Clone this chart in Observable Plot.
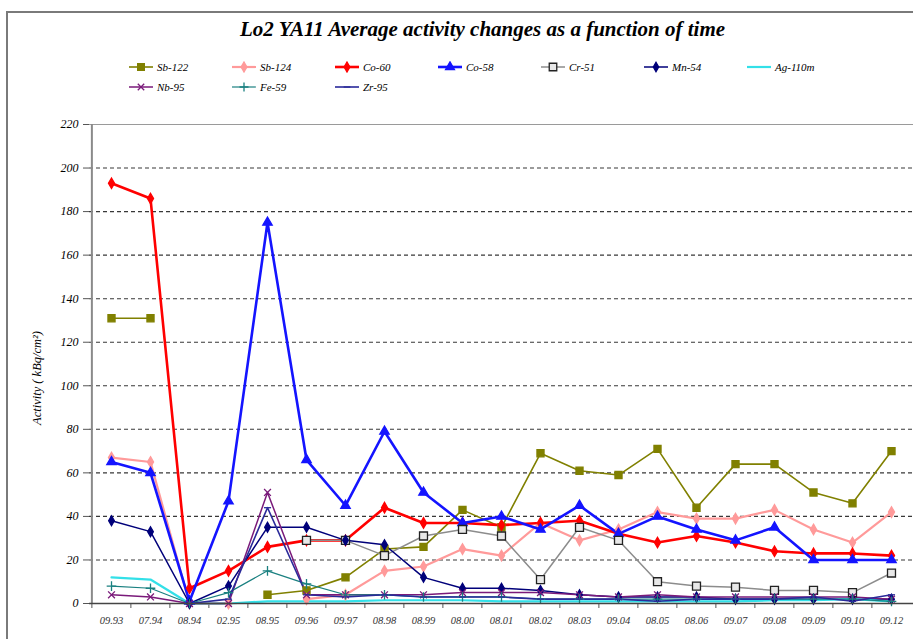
<!DOCTYPE html>
<html>
<head>
<meta charset="utf-8">
<script src="https://cdn.jsdelivr.net/npm/d3@7"></script>
<script src="https://cdn.jsdelivr.net/npm/@observablehq/plot@0.6"></script>
<style>
  html, body { margin: 0; padding: 0; background: #fff; }
  #page { position: relative; width: 913px; height: 639px; overflow: hidden; background: #fff; }
  #frame { position: absolute; left: 6px; top: 11px; width: 940px; height: 660px; border-left: 2px solid #7a7a7a; border-top: 2px solid #7a7a7a; }
  #title { position: absolute; left: 26px; width: 913px; top: 17px; text-align: center; font-family: "Liberation Serif", serif; font-weight: bold; font-style: italic; font-size: 21px; color: #000; }
  #legend { position: absolute; left: 128px; top: 60px; width: 720px; font-family: "Liberation Serif", serif; font-style: italic; font-size: 11px; color: #000; }
  .item { position: absolute; display: flex; align-items: center; height: 14px; }
  .item svg { margin-right: 3px; }
  #chart { position: absolute; left: 0; top: 110px; }
</style>
</head>
<body>
<div id="page">
  <div id="frame"></div>
  <div id="title"></div>
  <div id="legend"></div>
  <div id="chart"></div>
</div>
<script>
const titleText = "Lo2 YA11 Average activity changes as a function of time";
const yLabel = "Activity ( kBq/cm²)";
const categories = ["09.93","07.94","08.94","02.95","08.95","09.96","09.97","08.98","08.99","08.00","08.01","08.02","08.03","09.04","08.05","08.06","09.07","09.08","09.09","09.10","09.12"];
const yTicks = [0,20,40,60,80,100,120,140,160,180,200,220];
const seriesNames = ["Sb-122","Sb-124","Co-60","Co-58","Cr-51","Mn-54","Ag-110m","Nb-95","Fe-59","Zr-95"];

const sb122  = [131,131,null,null,4,6,12,25,26,43,35,69,61,59,71,44,64,64,51,46,70];
const sb124  = [67,65,0,0,null,2,4,15,17,25,22,37,29,34,42,39,39,43,34,28,42];
const co60   = [193,186,7,15,26,29,29,44,37,37,36,37,38,32,28,31,28,24,23,23,22];
const co58   = [65,60,1,47,175,66,45,79,51,37,40,34,45,32,40,34,29,35,20,20,20];
const cr51   = [null,null,null,null,null,29,29,22,31,34,31,11,35,29,10,8,7.5,6,6,5,14];
const mn54   = [38,33,0,8,35,35,29,27,12,7,7,6,4,3,3,3,2,2,2,2,2];
const ag110m = [12,11,0,0,1,1,1,1.5,1.5,1.5,1,1,1,1,1,1,1,1.5,1.5,2,1];
const nb95   = [4,3,0,0,51,4,4,4,4,5,5,5,4,3,4,3,3,3,3,3,2];
const fe59   = [8,7,0,5,15,9,4,4,3,3,3,2,2,2,2,2,2,2,2,2,1];
const zr95   = [null,null,0,2,44,4,3,4,3,3,3,2,2,2,1,2,2,2,3,1,4];

const seriesValues = [sb122, sb124, co60, co58, cr51, mn54, ag110m, nb95, fe59, zr95];

const minusSymbol = { draw(ctx, size) { const r = Math.sqrt(size) / 1.6; ctx.moveTo(-r, 0); ctx.lineTo(r, 0); } };

const styles = {
  "Sb-122":  {stroke: "#808000", width: 1.6, symbol: "square",   fill: "#808000", mstroke: "#808000", r: 4},
  "Sb-124":  {stroke: "#ff9a9a", width: 2.2, symbol: "diamond",  fill: "#ff9a9a", mstroke: "#ff9a9a", r: 3.2},
  "Co-60":   {stroke: "#ff0000", width: 2.6, symbol: "diamond",  fill: "#ff0000", mstroke: "#ff0000", r: 3.2},
  "Co-58":   {stroke: "#1414ff", width: 2.6, symbol: "triangle", fill: "#1414ff", mstroke: "#1414ff", r: 3.5},
  "Cr-51":   {stroke: "#8c8c8c", width: 1.5, symbol: "square",   fill: "#e8e8e8", mstroke: "#222", r: 4.5},
  "Mn-54":   {stroke: "#00007a", width: 1.5, symbol: "diamond",  fill: "#00007a", mstroke: "#00007a", r: 3},
  "Ag-110m": {stroke: "#33e0e8", width: 2.2, symbol: null,       fill: "none",    mstroke: "#33e0e8", r: 0},
  "Nb-95":   {stroke: "#7a1a7a", width: 1.5, symbol: "times",    fill: "none",    mstroke: "#7a1a7a", r: 3.2},
  "Fe-59":   {stroke: "#1a8080", width: 1.2, symbol: "plus",     fill: "none",    mstroke: "#1a8080", r: 3.2},
  "Zr-95":   {stroke: "#2a2a9a", width: 1.6, symbol: minusSymbol,fill: "none",    mstroke: "#2a2a9a", r: 3.2}
};

document.getElementById("title").textContent = titleText;

// Legend
const d3sym = {square: d3.symbolSquare, diamond: d3.symbolDiamond, triangle: d3.symbolTriangle, times: d3.symbolTimes, plus: d3.symbolPlus};
const legend = document.getElementById("legend");
seriesNames.forEach((name, i) => {
  const s = styles[name];
  const row = Math.floor(i / 7), col = i % 7;
  const item = document.createElement("div");
  item.className = "item";
  item.style.left = (col * 103) + "px";
  item.style.top = (row * 20) + "px";
  const svg = d3.create("svg").attr("width", 26).attr("height", 12);
  svg.append("line").attr("x1", 1).attr("x2", 25).attr("y1", 6).attr("y2", 6).attr("stroke", s.stroke).attr("stroke-width", s.width);
  if (s.symbol) {
    const type = typeof s.symbol === "string" ? d3sym[s.symbol] : s.symbol;
    svg.append("path").attr("transform", "translate(13,6)")
      .attr("d", d3.symbol(type, Math.pow(s.r * 2, 2) * 0.7)())
      .attr("fill", s.fill).attr("stroke", s.mstroke).attr("stroke-width", 1.3);
  }
  item.appendChild(svg.node());
  const span = document.createElement("span");
  span.textContent = name;
  item.appendChild(span);
  legend.appendChild(item);
});

// Chart
const W = 913, H = 529, mL = 89, mR = 0, mT = 14, mB = 36;
const step = (W - mL - mR) / categories.length;

const long = seriesNames.flatMap((name, si) =>
  categories.map((c, i) => ({series: name, date: c, value: seriesValues[si][i]})));

const marks = [
  Plot.gridY(yTicks.filter(t => t > 0 && t < 220), {stroke: "#222", strokeOpacity: 0.9, strokeDasharray: "4,3", strokeWidth: 1.1}),
  Plot.ruleY([220], {stroke: "#9a9a9a", strokeWidth: 1.2}),
  Plot.axisY({ticks: yTicks, tickSize: 6, tickPadding: 5, fontSize: 12, label: null, stroke: "#555"}),
  Plot.axisX({ticks: categories, tickSize: 5, tickFormat: () => "", dx: -step / 2, label: null, stroke: "#555"}),
  Plot.axisX({ticks: categories, tickSize: 0, tickPadding: 13, fontSize: 10.5, label: null, fill: "#333"}),
  Plot.text([yLabel], {frameAnchor: "left", textAnchor: "middle", dx: -53, dy: 14, rotate: -90, fontSize: 12.5, fill: "#000"})
];

seriesNames.forEach(name => {
  const s = styles[name];
  const data = long.filter(d => d.series === name);
  marks.push(Plot.line(data, {x: "date", y: "value", stroke: s.stroke, strokeWidth: s.width}));
});
seriesNames.forEach(name => {
  const s = styles[name];
  if (!s.symbol) return;
  const data = long.filter(d => d.series === name && d.value != null);
  marks.push(Plot.dot(data, {x: "date", y: "value", symbol: () => s.symbol, r: s.r, fill: s.fill, stroke: s.mstroke, strokeWidth: 1.3}));
});

marks.push(Plot.ruleX([categories[0]], {y1: 0, y2: 220, dx: -step / 2, stroke: "#8a8a8a", strokeWidth: 2}));
marks.push(Plot.ruleY([0], {stroke: "#444", strokeWidth: 1.5}));

const chart = Plot.plot({
  width: W, height: H,
  marginLeft: mL, marginRight: mR, marginTop: mT, marginBottom: mB,
  x: {type: "point", domain: categories, padding: 0.5},
  y: {domain: [0, 220]},
  symbol: {type: "identity"},
  style: {fontFamily: "Liberation Serif, serif", fontStyle: "italic", background: "transparent", color: "#000"},
  marks
});
document.getElementById("chart").appendChild(chart);
</script>
</body>
</html>
